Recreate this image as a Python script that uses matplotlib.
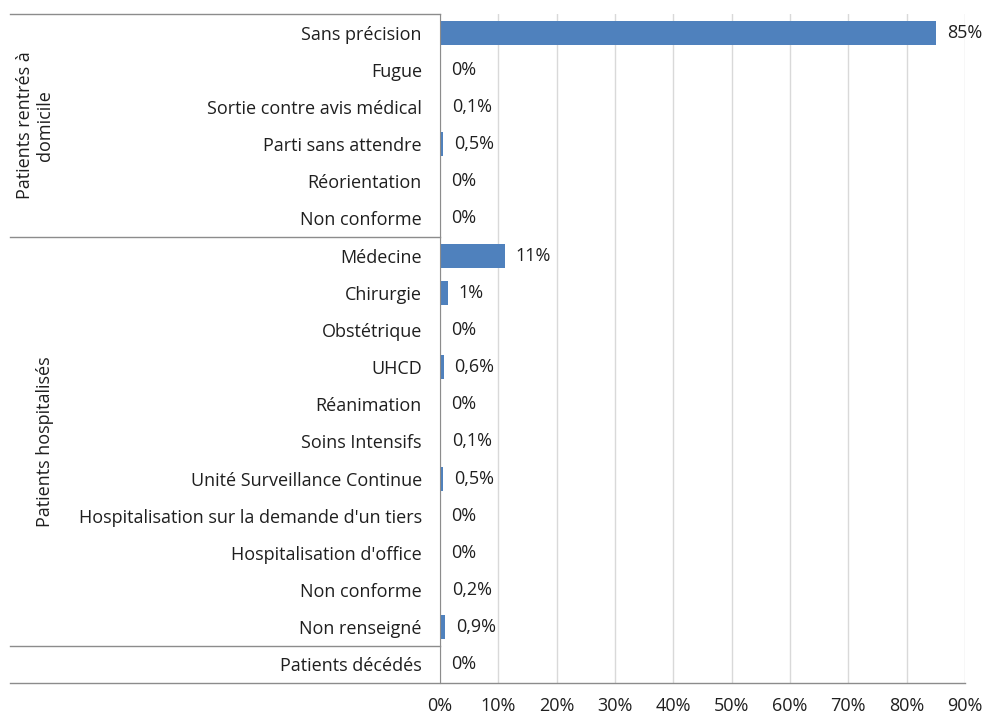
import matplotlib
matplotlib.use("Agg")
import matplotlib.pyplot as plt
from matplotlib.transforms import blended_transform_factory

plt.rcParams["font.family"] = ["Open Sans", "DejaVu Sans"]

categories = [
    "Sans précision", "Fugue", "Sortie contre avis médical", "Parti sans attendre",
    "Réorientation", "Non conforme",
    "Médecine", "Chirurgie", "Obstétrique", "UHCD", "Réanimation", "Soins Intensifs",
    "Unité Surveillance Continue", "Hospitalisation sur la demande d'un tiers",
    "Hospitalisation d'office", "Non conforme", "Non renseigné",
    "Patients décédés",
]
values = [85, 0, 0.1, 0.5, 0, 0, 11.1, 1.3, 0, 0.6, 0, 0.1, 0.5, 0, 0, 0.2, 0.9, 0]
value_labels = ["85%", "0%", "0,1%", "0,5%", "0%", "0%", "11%", "1%", "0%", "0,6%",
                "0%", "0,1%", "0,5%", "0%", "0%", "0,2%", "0,9%", "0%"]
groups = ["Patients rentrés à\ndomicile", "Patients hospitalisés"]
group_rows = [(0, 5), (6, 16)]
x_ticks = [0, 10, 20, 30, 40, 50, 60, 70, 80, 90]

bar_color = "#4F81BD"
line_color = "#8C8C8C"
text_color = "#1F1F1F"
fs = 13

fig = plt.figure(figsize=(9.84, 7.13), dpi=100)
ax = fig.add_axes([440 / 984, 1 - 683 / 713, 525 / 984, 669 / 713])

y = list(range(len(categories)))
ax.barh(y, values, height=0.65, color=bar_color, zorder=3)
for yi, v, lab in zip(y, values, value_labels):
    ax.annotate(lab, (v, yi), xytext=(8, 0), textcoords="offset points",
                ha="left", va="center", fontsize=fs, color=text_color)

ax.set_ylim(len(categories) - 0.5, -0.5)
ax.set_xlim(0, 90)
ax.set_yticks(y)
ax.set_yticklabels(categories, fontsize=fs, color=text_color)
ax.set_xticks(x_ticks)
ax.set_xticklabels([f"{t}%" for t in x_ticks], fontsize=fs, color=text_color)
ax.tick_params(axis="y", length=0, pad=13)
ax.tick_params(axis="x", length=0, pad=10)
ax.grid(axis="x", color="#D9D9D9", linewidth=1, zorder=0)
for s in ["top", "right", "bottom"]:
    ax.spines[s].set_visible(False)
ax.spines["left"].set_color(line_color)
ax.spines["left"].set_zorder(4)

# category box lines on the left
tr = blended_transform_factory(fig.transFigure, ax.transData)
x0 = 10 / 984
x1 = 440 / 984
for yl in [-0.5, 5.5, 16.5]:
    ax.plot([x0, x1], [yl, yl], transform=tr, color=line_color, lw=1, clip_on=False)
ax.plot([x0, 965 / 984], [17.5, 17.5], transform=tr, color=line_color, lw=1,
        clip_on=False, zorder=5)

gx = [35 / 984, 45 / 984]
for (a, b), name, xx in zip(group_rows, groups, gx):
    ax.text(xx, (a + b) / 2, name, transform=tr, rotation=90, ha="center",
            va="center", fontsize=fs, color=text_color, multialignment="center")

fig.savefig("out.png", dpi=100)
